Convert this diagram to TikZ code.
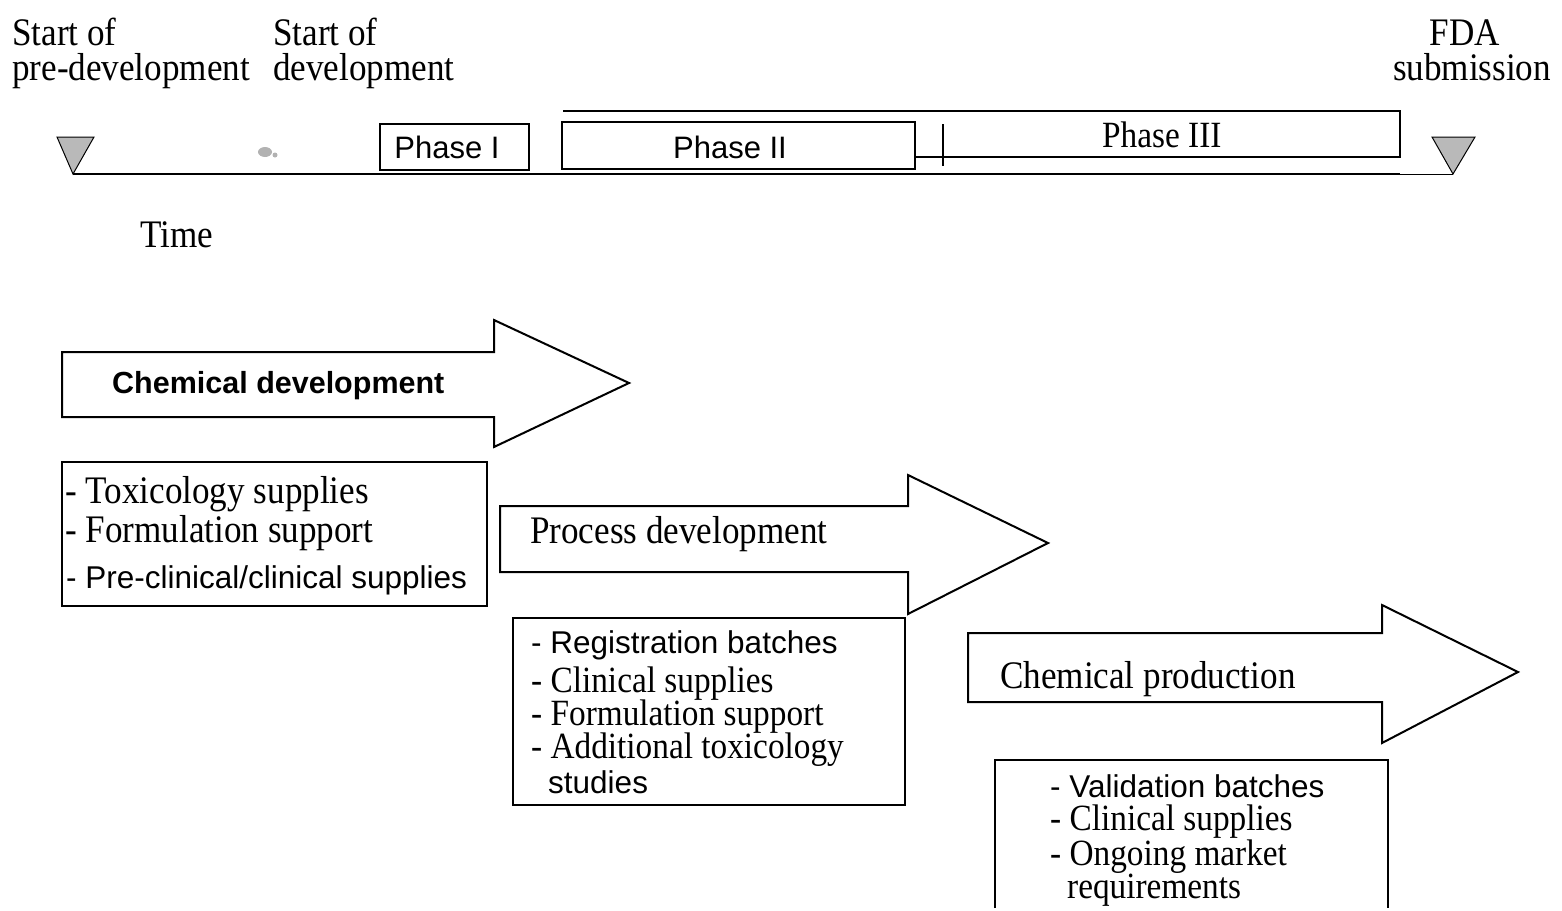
\documentclass[tikz,border=0pt]{standalone}
\usepackage{fontspec}
\newfontfamily\tms[FakeStretch=0.9]{Liberation Serif}
\newfontfamily\hlv{Liberation Sans}

\tikzset{
  frame/.style={line width=2pt, line join=miter},
  serifL/.style={inner sep=0pt, anchor=base west, font=\tms\fontsize{39}{39}\selectfont},
  serifS/.style={inner sep=0pt, anchor=base west, font=\tms\fontsize{37}{37}\selectfont},
  sansL/.style={inner sep=0pt, anchor=base west, font=\hlv\fontsize{31.5}{31.5}\selectfont},
  phase/.style={inner sep=0pt, font=\hlv\fontsize{31}{31}\selectfont},
  marker/.style={draw=black, line width=1pt, fill=gray!55},
}

\begin{document}
\begin{tikzpicture}[x=1pt, y=-1pt]
\useasboundingbox (0,0) rectangle (1562,910);

% ---- milestone labels
\node[serifL] (sp1) at (12,45) {Start of};
\node[serifL] (sp2) at (12,80) {pre-development};
\node[serifL] (sd1) at (273,45) {Start of};
\node[serifL] (sd2) at (273,80) {development};
\node[serifL, anchor=base] (fda1) at (1465,45) {FDA};
\node[serifL, anchor=base] (fda2) at (1472,80) {submission};

% ---- time axis
\coordinate (t0) at (73,174);
\coordinate (t1) at (1400,174);
\coordinate (t2) at (1453,174);
\draw[frame] (t0) -- (t1);
\draw[line width=1pt] (t1) -- (t2);
\draw[marker] (57,137) -- (94,137) -- (t0) -- cycle;
\draw[marker] (1432,137) -- (1475,137) -- (t2) -- cycle;
\fill[gray!60] (265,152) ellipse [x radius=7pt, y radius=5pt];
\fill[gray!60] (275,155) circle [radius=2.5pt];

% ---- clinical phases
\draw[frame] (380,124) rectangle (529,170);
\node[phase] (ph1) at (447,147) {Phase I};
\draw[frame] (562,122) rectangle (915,169);
\node[phase] (ph2) at (730,147) {Phase II};
\draw[frame] (563,111) -- (1400,111) -- (1400,157) -- (915,157);
\draw[line width=1.6pt] (943,124) -- (943,166);
\node[inner sep=0pt, anchor=base west, font=\tms\fontsize{37}{37}\selectfont] (ph3) at (1102,147) {Phase III};

\node[serifL] (time) at (140,247) {Time};

% ---- chemical development
\draw[frame] (62,352) -- (494,352) -- (494,320) -- (629,383) -- (494,447)
  -- (494,417) -- (62,417) -- cycle;
\node[inner sep=0pt, anchor=base west, font=\hlv\bfseries\fontsize{30.5}{30.5}\selectfont]
  (cdev) at (112,393) {Chemical development};

\draw[frame] (62,462) rectangle (487,606);
\node[serifL] (a1) at (65,503) {- Toxicology supplies};
\node[serifL] (a2) at (65,542) {- Formulation support};
\node[sansL]  (a3) at (66,588) {- Pre-clinical/clinical supplies};

% ---- process development
\draw[frame] (500,506) -- (908,506) -- (908,475) -- (1048,543) -- (908,614)
  -- (908,572) -- (500,572) -- cycle;
\node[serifL] (pdev) at (530,543) {Process development};

\draw[frame] (513,618) rectangle (905,805);
\node[sansL]  (b1) at (531,653) {- Registration batches};
\node[serifS] (b2) at (531,692) {- Clinical supplies};
\node[serifS] (b3) at (531,725) {- Formulation support};
\node[serifS] (b4) at (531,758) {- Additional toxicology};
\node[sansL]  (b5) at (548,793) {studies};

% ---- chemical production
\draw[frame] (968,633) -- (1382,633) -- (1382,605) -- (1518,672) -- (1382,743)
  -- (1382,702) -- (968,702) -- cycle;
\node[serifL] (cprod) at (1000,688) {Chemical production};

\draw[frame] (995,908) -- (995,760) -- (1388,760) -- (1388,908);
\node[sansL]  (c1) at (1050,797) {- Validation batches};
\node[serifS] (c2) at (1050,830) {- Clinical supplies};
\node[serifS] (c3) at (1050,865) {- Ongoing market};
\node[serifS] (c4) at (1067,898) {requirements};
\end{tikzpicture}
\end{document}
